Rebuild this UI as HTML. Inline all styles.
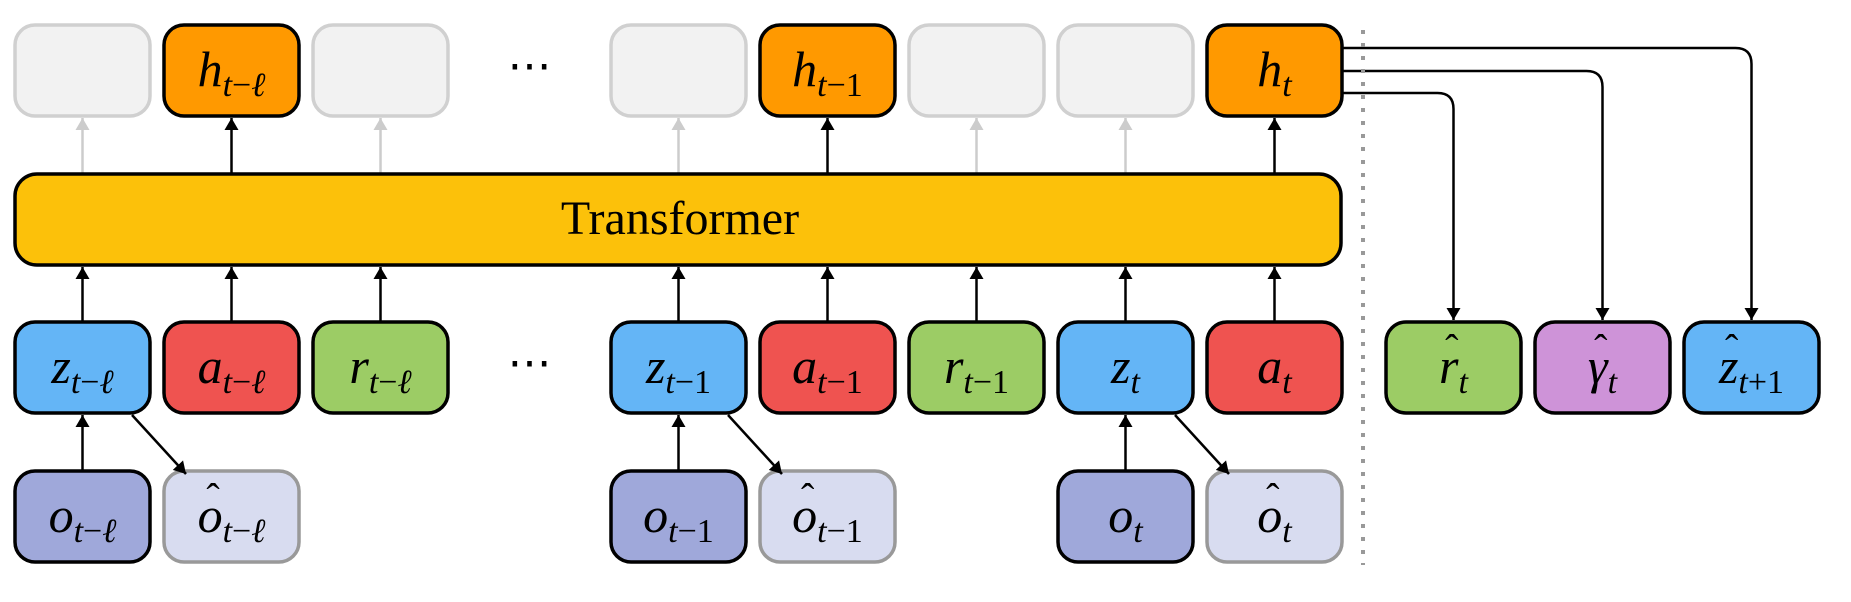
<!DOCTYPE html>
<html><head><meta charset="utf-8"><style>
html,body{margin:0;padding:0;background:#fff;width:1851px;height:602px;overflow:hidden}
svg text{font-family:"Liberation Serif",serif}
.m{font-size:50px}
.it{font-style:italic}
.s{font-size:34px}
</style></head><body>
<svg id="d" width="1851" height="602" viewBox="0 0 1851 602" xmlns="http://www.w3.org/2000/svg">
<defs>
<marker id="ak" viewBox="0 0 12 14" markerWidth="12" markerHeight="14" refX="12" refY="7" orient="auto" markerUnits="userSpaceOnUse"><path d="M0,0 L12,7 L0,14 Z" fill="#000"/></marker>
<marker id="ag" viewBox="0 0 12 14" markerWidth="12" markerHeight="14" refX="12" refY="7" orient="auto" markerUnits="userSpaceOnUse"><path d="M0,0 L12,7 L0,14 Z" fill="#ccc"/></marker>
</defs>
<g id="g"></g>
<line x1="1363" y1="30" x2="1363" y2="565" stroke="#999" stroke-width="4" stroke-dasharray="4,9"/>
</svg>
<script>
const g=document.getElementById('g');
const NS='http://www.w3.org/2000/svg';
function el(t,a){const e=document.createElementNS(NS,t);for(const k in a)e.setAttribute(k,a[k]);g.appendChild(e);return e;}
const W=135,H=91;
const cx=k=>15+149*k;
const R1=25,RT=174,R3=322,R4=471;
function box(x,y,fill,stroke,name){const r=el('rect',{x:x,y:y,width:W,height:H,rx:20,fill:fill,stroke:stroke,'stroke-width':3.5});

return r;}
function ts(t,txt,cls,dy){const a=document.createElementNS(NS,'tspan');a.textContent=txt;if(cls)a.setAttribute('class',cls);if(dy)a.setAttribute('dy',dy);t.appendChild(a);return a;}
function label(x,y,main,sub,name,hat){
  const t=el('text',{x:x+W/2,y:y+61,'text-anchor':'middle',class:'m'});
  
  
  ts(t,main,'it');
  ts(t,'t','s it','10');
  if(sub.length>1) ts(t,sub.slice(1).replace('ℓ',''),'s');
  if(sub.indexOf('ℓ')>=0) ts(t,'ℓ','s it');
  if(hat){
    let cxh=x+W/2-10;
    try{const e=t.getExtentOfChar(0);cxh=e.x+e.width/2+3;}catch(err){}
    const h=el('text',{x:cxh,y:y+40,'text-anchor':'middle','font-size':'40px'});h.textContent='ˆ';
    
    
  }
  return t;}
function arrow(x1,y1,x2,y2,c,name){const l=el('line',{x1:x1,y1:y1,x2:x2,y2:y2,stroke:c==='g'?'#ccc':'#000','stroke-width':2.5,'marker-end':c==='g'?'url(#ag)':'url(#ak)'});

}
const topRow=[[0,null],[1,'t−ℓ'],[2,null],[4,null],[5,'t−1'],[6,null],[7,null],[8,'t']];
topRow.forEach(([k,s])=>{
  if(s){box(cx(k),R1,'#FF9900','#000','hidden-state-box');label(cx(k),R1,'h',s,'hidden-state-label');arrow(cx(k)+W/2,RT,cx(k)+W/2,R1+H+2,'k','output-arrow');}
  else{box(cx(k),R1,'#F2F2F2','#D0D0D0','inactive-output-box');arrow(cx(k)+W/2,RT,cx(k)+W/2,R1+H+2,'g','inactive-arrow');}
});
const tr=el('rect',{x:15,y:RT,width:1326,height:91,rx:22,fill:'#FCC10A',stroke:'#000','stroke-width':3.5});


const tt=el('text',{x:680,y:RT+60,'text-anchor':'middle','font-size':'48px'});tt.textContent='Transformer';


const row3=[[0,'z','t−ℓ','#64B5F6'],[1,'a','t−ℓ','#EF5350'],[2,'r','t−ℓ','#9CCC65'],[4,'z','t−1','#64B5F6'],[5,'a','t−1','#EF5350'],[6,'r','t−1','#9CCC65'],[7,'z','t','#64B5F6'],[8,'a','t','#EF5350']];
row3.forEach(([k,m,s,c])=>{box(cx(k),R3,c,'#000','input-token-box');label(cx(k),R3,m,s,'input-token-label');arrow(cx(k)+W/2,R3,cx(k)+W/2,RT+H+2,'k','input-arrow');});
[[0,'t−ℓ'],[4,'t−1'],[7,'t']].forEach(([k,s])=>{
  box(cx(k),R4,'#9FA8DA','#000','observation-box');label(cx(k),R4,'o',s,'observation-label');
  arrow(cx(k)+W/2,R4,cx(k)+W/2,R3+H+2,'k','encode-arrow');
  box(cx(k+1),R4,'#D8DCF0','#999','reconstruction-box');label(cx(k+1),R4,'o',s,'reconstruction-label',true);
  arrow(cx(k)+117,R3+H+2,cx(k+1)+22,R4+3,'k','decode-arrow');
});
[R1+H/2+10,R3+H/2+10].forEach(y=>{const d=el('text',{x:cx(3)+W/2,y:y,'text-anchor':'middle','font-size':'44px'});d.textContent='⋯';

});
const rx=[1386,1535,1684];
const rh=[['r','t','#9CCC65'],['γ','t','#CE93D8'],['z','t+1','#64B5F6']];
const ly=[93,71,48];
rh.forEach(([m,s,c],i)=>{
  box(rx[i],R3,c,'#000','prediction-head-box');label(rx[i],R3,m,s,'prediction-head-label',true);
  const x=rx[i]+W/2, x0=cx(8)+W;
  const p=el('path',{d:`M${x0},${ly[i]} L${x-16},${ly[i]} Q${x},${ly[i]} ${x},${ly[i]+16} L${x},${R3-2}`,fill:'none',stroke:'#000','stroke-width':2.5,'marker-end':'url(#ak)'});
  
  
});
</script>
</body></html>
